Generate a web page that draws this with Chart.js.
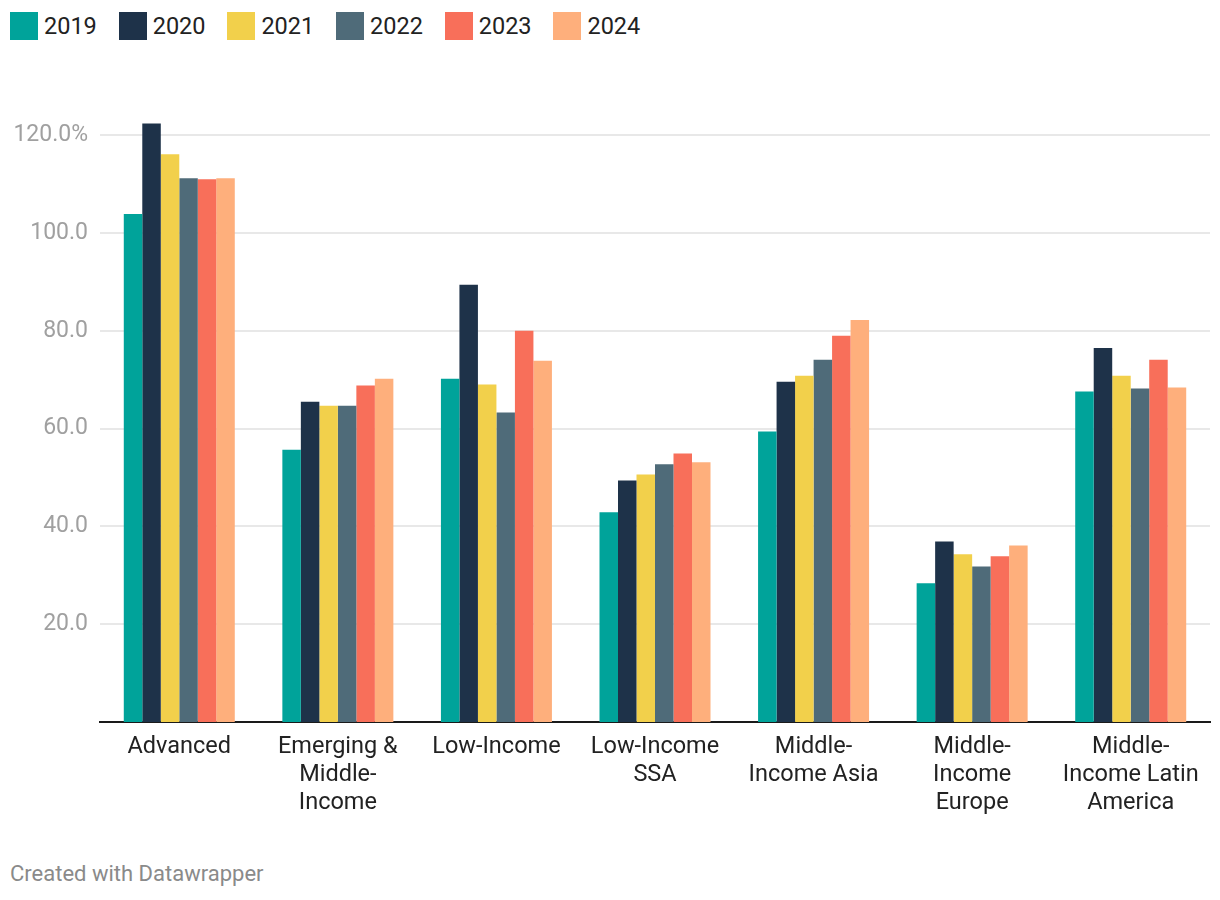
<!DOCTYPE html>
<html>
<head>
<meta charset="utf-8">
<script src="https://cdn.jsdelivr.net/npm/chart.js@4"></script>
<style>
  body { margin: 0; background: #fff; font-family: Roboto, sans-serif; width: 1220px; height: 900px; position: relative; overflow: hidden; }
  #leyenda { position: absolute; left: 10px; top: 12px; display: flex; }
  .item { display: flex; align-items: center; width: 108.7px; height: 28px; font-size: 23.5px; color: #222; }
  .caja { width: 28px; height: 28px; margin-right: 6px; }
  #contenedor { position: absolute; left: 0; top: 85px; width: 1220px; height: 775px; }
  #pie { position: absolute; left: 10px; top: 861px; font-size: 22px; color: #8a8a8a; }
</style>
</head>
<body>
<div id="leyenda"></div>
<div id="contenedor"><canvas id="grafico"></canvas></div>
<div id="pie">Created with Datawrapper</div>
<script>
const categorias = [
  'Advanced',
  ['Emerging &', 'Middle-', 'Income'],
  'Low-Income',
  ['Low-Income', 'SSA'],
  ['Middle-', 'Income Asia'],
  ['Middle-', 'Income', 'Europe'],
  ['Middle-', 'Income Latin', 'America']
];

const anios = ['2019', '2020', '2021', '2022', '2023', '2024'];
const colores = ['#00a39a', '#1e3249', '#f2d04b', '#4f6b79', '#f86f5a', '#feaf7c'];
const marcasY = [20, 40, 60, 80, 100, 120];

const valores2019 = [103.9, 55.7, 70.2, 42.9, 59.4, 28.4, 67.6];
const valores2020 = [122.4, 65.5, 89.4, 49.4, 69.6, 36.9, 76.5];
const valores2021 = [116.1, 64.7, 69.0, 50.6, 70.8, 34.3, 70.8];
const valores2022 = [111.2, 64.7, 63.3, 52.7, 74.1, 31.8, 68.2];
const valores2023 = [111.0, 68.8, 80.0, 54.9, 79.0, 33.9, 74.1];
const valores2024 = [111.2, 70.2, 73.9, 53.1, 82.2, 36.1, 68.4];

const series = [valores2019, valores2020, valores2021, valores2022, valores2023, valores2024];

// leyenda en html
const leyendaEl = document.getElementById('leyenda');
anios.forEach((anio, i) => {
  leyendaEl.innerHTML += `<div class="item"><span class="caja" style="background:${colores[i]}"></span>${anio}</div>`;
});

const data = {
  labels: categorias,
  datasets: anios.map((anio, i) => ({
    label: anio,
    data: series[i],
    backgroundColor: colores[i],
    borderWidth: 0,
    categoryPercentage: 0.7,
    barPercentage: 1.0
  }))
};

const config = {
  type: 'bar',
  data,
  options: {
    responsive: true,
    maintainAspectRatio: false,
    animation: false,
    layout: { padding: { top: 10, right: 10, left: 0, bottom: 0 } },
    plugins: {
      legend: { display: false },
      tooltip: { enabled: false }
    },
    scales: {
      x: {
        grid: { display: false, drawTicks: false },
        border: { display: true, color: '#1a1a1a', width: 2 },
        ticks: {
          color: '#222',
          padding: 11,
          maxRotation: 0,
          autoSkip: false,
          font: { family: 'Roboto', size: 23.5, lineHeight: 1.19 }
        },
        afterFit: (scale) => { scale.height = 138; }
      },
      y: {
        min: 0,
        max: 125,
        border: { display: false },
        grid: {
          drawTicks: false,
          color: '#e8e8e8',
          lineWidth: 2
        },
        afterBuildTicks: (scale) => {
          scale.ticks = marcasY.map(v => ({ value: v }));
        },
        ticks: {
          padding: 12,
          autoSkip: false,
          color: '#a0a0a0',
          font: { family: 'Roboto', size: 23 },
          callback: (valor) => valor === 120 ? '120.0%' : valor.toFixed(1)
        },
        afterFit: (scale) => { scale.width = 100; }
      }
    }
  }
};

const ctx = document.getElementById('grafico').getContext('2d');
new Chart(ctx, config);
</script>
</body>
</html>
